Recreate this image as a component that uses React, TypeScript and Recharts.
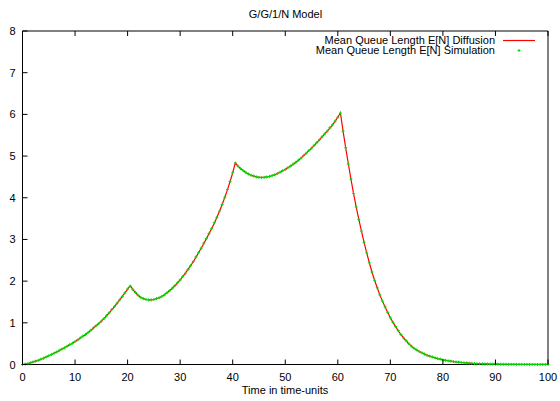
import React from "react";
import {
  ComposedChart,
  Line,
  Scatter,
  XAxis,
  YAxis,
} from "recharts";

const diffusion = [
  0, 0.01, 0.02, 0.04, 0.06, 0.08, 0.1, 0.12, 0.15, 0.18,
  0.21, 0.24, 0.27, 0.3, 0.33, 0.37, 0.4, 0.44, 0.47, 0.51,
  0.55, 0.59, 0.63, 0.68, 0.72, 0.77, 0.82, 0.87, 0.93, 0.98,
  1.04, 1.1, 1.17, 1.24, 1.31, 1.39, 1.47, 1.55, 1.64, 1.72,
  1.81, 1.89, 1.8, 1.72, 1.66, 1.61, 1.58, 1.56, 1.55, 1.55,
  1.56, 1.58, 1.6, 1.63, 1.67, 1.72, 1.77, 1.83, 1.89, 1.96,
  2.03, 2.11, 2.19, 2.28, 2.37, 2.47, 2.57, 2.68, 2.79, 2.9,
  3.02, 3.14, 3.26, 3.39, 3.53, 3.68, 3.84, 4.01, 4.19, 4.39,
  4.6, 4.84, 4.76, 4.7, 4.65, 4.6, 4.57, 4.54, 4.52, 4.5,
  4.49, 4.49, 4.49, 4.5, 4.51, 4.53, 4.55, 4.58, 4.61, 4.64,
  4.68, 4.72, 4.76, 4.8, 4.85, 4.9, 4.95, 5.01, 5.07, 5.13,
  5.19, 5.25, 5.32, 5.39, 5.46, 5.53, 5.6, 5.67, 5.75, 5.84,
  5.93, 6.04, 5.6, 5.2, 4.82, 4.45, 4.1, 3.78, 3.48, 3.2,
  2.93, 2.68, 2.44, 2.22, 2.02, 1.84, 1.67, 1.52, 1.38, 1.25,
  1.12, 1.01, 0.91, 0.81, 0.72, 0.64, 0.57, 0.5, 0.44, 0.39,
  0.35, 0.31, 0.28, 0.25, 0.22, 0.2, 0.18, 0.16, 0.14, 0.13,
  0.11, 0.1, 0.09, 0.08, 0.07, 0.06, 0.055, 0.048, 0.042, 0.037,
  0.032, 0.028, 0.024, 0.021, 0.018, 0.016, 0.014, 0.012, 0.01, 0.009,
  0.008, 0.007, 0.006, 0.005, 0.005, 0.004, 0.004, 0.003, 0.003, 0.003,
  0.002, 0.002, 0.002, 0.002, 0.001, 0.001, 0.001, 0.001, 0.001, 0.001,
  0.001,
];

const simulation = [
  0, 0.01, 0.02, 0.04, 0.06, 0.08, 0.1, 0.13, 0.15, 0.18,
  0.21, 0.24, 0.27, 0.3, 0.34, 0.37, 0.4, 0.44, 0.48, 0.51,
  0.55, 0.59, 0.64, 0.68, 0.72, 0.77, 0.82, 0.88, 0.93, 0.98,
  1.04, 1.1, 1.17, 1.24, 1.32, 1.39, 1.47, 1.55, 1.63, 1.72,
  1.81, 1.88, 1.8, 1.73, 1.66, 1.61, 1.58, 1.56, 1.55, 1.55,
  1.56, 1.58, 1.6, 1.63, 1.67, 1.72, 1.77, 1.83, 1.89, 1.96,
  2.03, 2.11, 2.19, 2.28, 2.37, 2.47, 2.58, 2.68, 2.79, 2.91,
  3.02, 3.14, 3.26, 3.4, 3.53, 3.68, 3.84, 4.01, 4.2, 4.39,
  4.6, 4.83, 4.76, 4.7, 4.65, 4.61, 4.57, 4.54, 4.52, 4.5,
  4.49, 4.48, 4.49, 4.5, 4.51, 4.53, 4.55, 4.58, 4.61, 4.65,
  4.68, 4.72, 4.76, 4.81, 4.85, 4.9, 4.95, 5.01, 5.07, 5.13,
  5.19, 5.26, 5.32, 5.39, 5.46, 5.53, 5.6, 5.68, 5.75, 5.84,
  5.93, 6.03, 5.6, 5.2, 4.81, 4.45, 4.1, 3.78, 3.48, 3.2,
  2.93, 2.68, 2.44, 2.22, 2.02, 1.84, 1.67, 1.52, 1.38, 1.25,
  1.12, 1.01, 0.91, 0.81, 0.72, 0.64, 0.57, 0.5, 0.44, 0.39,
  0.35, 0.31, 0.28, 0.25, 0.22, 0.2, 0.18, 0.16, 0.14, 0.13,
  0.11, 0.1, 0.09, 0.08, 0.07, 0.06, 0.055, 0.048, 0.042, 0.037,
  0.032, 0.028, 0.024, 0.021, 0.018, 0.016, 0.014, 0.012, 0.01, 0.009,
  0.008, 0.007, 0.006, 0.005, 0.005, 0.004, 0.004, 0.003, 0.003, 0.003,
  0.002, 0.002, 0.002, 0.002, 0.001, 0.001, 0.001, 0.001, 0.001, 0.001,
  0.001,
];

const SAMPLE_STEP = 0.5;
const xTicks = [0, 10, 20, 30, 40, 50, 60, 70, 80, 90, 100];
const yTicks = [0, 1, 2, 3, 4, 5, 6, 7, 8];

const TITLE = "G/G/1/N Model";
const X_LABEL = "Time in time-units";
const DIFF_NAME = "Mean Queue Length E[N] Diffusion";
const SIM_NAME = "Mean Queue Length E[N] Simulation";

const RED = "#ff0000";
const GREEN = "#00dd00";
const FONT = "'Liberation Sans', Arial, sans-serif";

const data = diffusion.map((d, i) => ({
  t: i * SAMPLE_STEP,
  diffusion: d,
  simulation: simulation[i],
}));

const BottomTick = (props: any) => {
  const { x, y, payload } = props;
  return (
    <g>
      <line x1={x} y1={y} x2={x} y2={y - 5} stroke="#000" />
      <text x={x} y={y + 16} textAnchor="middle" fontSize={11} fill="#000" fontFamily={FONT}>
        {payload.value}
      </text>
    </g>
  );
};

const TopTick = (props: any) => {
  const { x, y } = props;
  return <line x1={x} y1={y} x2={x} y2={y + 5} stroke="#000" />;
};

const LeftTick = (props: any) => {
  const { x, y, payload } = props;
  return (
    <g>
      <line x1={x} y1={y} x2={x + 5} y2={y} stroke="#000" />
      <text x={x - 7} y={y + 4} textAnchor="end" fontSize={11} fill="#000" fontFamily={FONT}>
        {payload.value}
      </text>
    </g>
  );
};

const RightTick = (props: any) => {
  const { x, y } = props;
  return <line x1={x} y1={y} x2={x - 5} y2={y} stroke="#000" />;
};

const PlusPoint = (props: any) => {
  const { cx, cy } = props;
  if (cx == null || cy == null) return null;
  return (
    <path
      d={`M${cx - 1.5},${cy}h3M${cx},${cy - 1.5}v3`}
      stroke={GREEN}
      strokeWidth={1}
      fill="none"
    />
  );
};

export default function App() {
  return (
    <div style={{ position: "absolute", left: 0, top: 0, width: 560, height: 401, background: "#fff" }}>
      <ComposedChart
        width={560}
        height={401}
        data={data}
        margin={{ top: 30, right: 11, bottom: 0, left: 0 }}
      >
        <XAxis
          dataKey="t"
          type="number"
          domain={[0, 100]}
          ticks={xTicks}
          interval={0}
          height={36.5}
          tickSize={0}
          tickMargin={0}
          tickLine={false}
          axisLine={{ stroke: "#000" }}
          tick={<BottomTick />}
        />
        <XAxis
          xAxisId="top"
          orientation="top"
          dataKey="t"
          type="number"
          domain={[0, 100]}
          ticks={xTicks}
          interval={0}
          height={1}
          tickSize={0}
          tickMargin={0}
          tickLine={false}
          axisLine={{ stroke: "#000" }}
          tick={<TopTick />}
        />
        <YAxis
          type="number"
          domain={[0, 8]}
          ticks={yTicks}
          interval={0}
          width={22.5}
          tickSize={0}
          tickMargin={0}
          tickLine={false}
          axisLine={{ stroke: "#000" }}
          tick={<LeftTick />}
        />
        <YAxis
          yAxisId="right"
          orientation="right"
          type="number"
          domain={[0, 8]}
          ticks={yTicks}
          interval={0}
          width={1}
          tickSize={0}
          tickMargin={0}
          tickLine={false}
          axisLine={{ stroke: "#000" }}
          tick={<RightTick />}
        />
        <Line
          type="linear"
          dataKey="diffusion"
          stroke={RED}
          strokeWidth={1.2}
          dot={false}
          activeDot={false}
          isAnimationActive={false}
        />
        <Scatter
          dataKey="simulation"
          fill={GREEN}
          shape={<PlusPoint />}
          isAnimationActive={false}
        />
      </ComposedChart>
      <svg
        width={560}
        height={401}
        style={{ position: "absolute", left: 0, top: 0, pointerEvents: "none" }}
        fontFamily={FONT}
        fontSize={11}
      >
        <text x={285.5} y={18} textAnchor="middle" fill="#000">{TITLE}</text>
        <text x={495} y={43.5} textAnchor="end" fill="#000">{DIFF_NAME}</text>
        <line x1={503} y1={40.5} x2={535} y2={40.5} stroke={RED} strokeWidth={1.2} />
        <text x={495} y={54} textAnchor="end" fill="#000">{SIM_NAME}</text>
        <path d="M517.5,50.5h3M519,49v3" stroke={GREEN} strokeWidth={1} />
        <text x={285} y={394} textAnchor="middle" fill="#000">{X_LABEL}</text>
      </svg>
    </div>
  );
}
